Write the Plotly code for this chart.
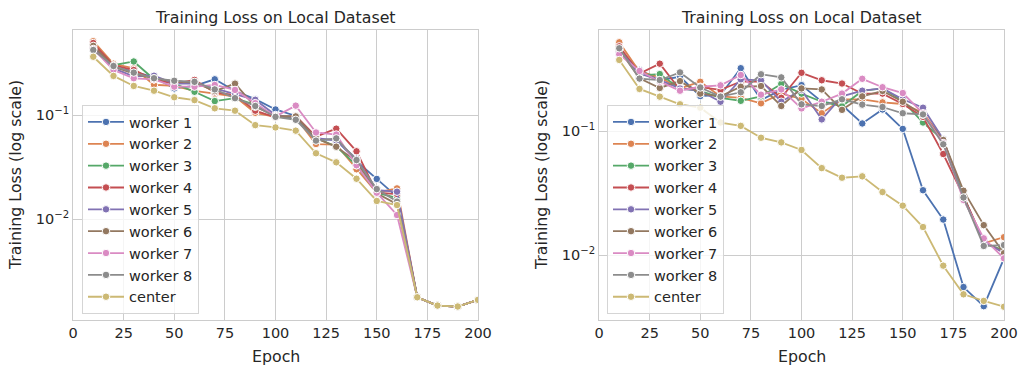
import plotly.graph_objects as go

epochs = [10, 20, 30, 40, 50, 60, 70, 80, 90, 100, 110, 120, 130, 140, 150, 160, 170, 180, 190, 200]
names = ["worker 1", "worker 2", "worker 3", "worker 4", "worker 5", "worker 6", "worker 7", "worker 8", "center"]
colors = ["#4C72B0", "#DD8452", "#55A868", "#C44E52", "#8172B3", "#937860", "#DA8BC3", "#8C8C8C", "#CCB974"]

left_tail = [0.00179, 0.00149, 0.00146, 0.00169]
left_w1 = [0.45, 0.29, 0.26, 0.23, 0.18, 0.19, 0.22, 0.17, 0.142, 0.113, 0.098, 0.058, 0.058, 0.036, 0.0244, 0.0165] + left_tail
left_w2 = [0.51, 0.31, 0.28, 0.195, 0.19, 0.17, 0.16, 0.15, 0.105, 0.096, 0.095, 0.0527, 0.052, 0.0302, 0.018, 0.0198] + left_tail
left_w3 = [0.475, 0.30, 0.326, 0.22, 0.20, 0.167, 0.136, 0.145, 0.125, 0.097, 0.092, 0.06, 0.05, 0.033, 0.018, 0.016] + left_tail
left_w4 = [0.49, 0.30, 0.27, 0.22, 0.20, 0.217, 0.165, 0.155, 0.11, 0.095, 0.098, 0.062, 0.074, 0.0449, 0.018, 0.0175] + left_tail
left_w5 = [0.44, 0.28, 0.235, 0.238, 0.20, 0.20, 0.18, 0.16, 0.14, 0.10, 0.095, 0.06, 0.057, 0.038, 0.019, 0.0184] + left_tail
left_w6 = [0.46, 0.29, 0.25, 0.225, 0.21, 0.205, 0.17, 0.20, 0.12, 0.098, 0.097, 0.06, 0.0497, 0.036, 0.0178, 0.014] + left_tail
left_w7 = [0.43, 0.27, 0.225, 0.22, 0.187, 0.187, 0.194, 0.174, 0.13, 0.097, 0.123, 0.068, 0.065, 0.033, 0.018, 0.011] + left_tail
left_w8 = [0.42, 0.295, 0.255, 0.225, 0.213, 0.208, 0.176, 0.145, 0.122, 0.096, 0.09, 0.0568, 0.0597, 0.037, 0.0195, 0.0148] + left_tail
left_center = [0.362, 0.237, 0.19, 0.171, 0.148, 0.139, 0.116, 0.110, 0.080, 0.076, 0.0708, 0.043, 0.0352, 0.0245, 0.015, 0.0137] + left_tail

right_w1 = [0.44, 0.31, 0.257, 0.273, 0.191, 0.195, 0.32, 0.178, 0.214, 0.234, 0.172, 0.162, 0.115, 0.149, 0.104, 0.0334, 0.0194, 0.00556, 0.0039, 0.00946]
right_w2 = [0.517, 0.30, 0.27, 0.22, 0.249, 0.19, 0.185, 0.167, 0.20, 0.181, 0.139, 0.18, 0.18, 0.17, 0.165, 0.14, 0.085, 0.030, 0.0125, 0.014]
right_w3 = [0.47, 0.28, 0.287, 0.22, 0.21, 0.185, 0.175, 0.19, 0.239, 0.20, 0.172, 0.158, 0.21, 0.22, 0.175, 0.117, 0.085, 0.030, 0.0125, 0.011]
right_w4 = [0.48, 0.29, 0.348, 0.215, 0.225, 0.214, 0.25, 0.25, 0.185, 0.294, 0.256, 0.241, 0.20, 0.20, 0.165, 0.13, 0.0653, 0.030, 0.013, 0.0105]
right_w5 = [0.45, 0.29, 0.257, 0.22, 0.21, 0.172, 0.26, 0.255, 0.172, 0.214, 0.124, 0.19, 0.211, 0.22, 0.18, 0.154, 0.086, 0.029, 0.0128, 0.0105]
right_w6 = [0.45, 0.265, 0.222, 0.252, 0.20, 0.19, 0.227, 0.23, 0.159, 0.22, 0.216, 0.148, 0.19, 0.21, 0.172, 0.135, 0.0847, 0.0331, 0.0175, 0.0104]
right_w7 = [0.414, 0.304, 0.25, 0.211, 0.227, 0.233, 0.282, 0.196, 0.216, 0.152, 0.172, 0.2, 0.263, 0.225, 0.202, 0.139, 0.08, 0.0279, 0.0137, 0.00946]
right_w8 = [0.463, 0.264, 0.257, 0.296, 0.224, 0.189, 0.205, 0.286, 0.27, 0.164, 0.159, 0.18, 0.163, 0.156, 0.139, 0.136, 0.0782, 0.0292, 0.0119, 0.0121]
right_center = [0.373, 0.218, 0.189, 0.164, 0.154, 0.117, 0.110, 0.0883, 0.081, 0.0704, 0.0503, 0.0421, 0.0432, 0.0323, 0.0251, 0.0169, 0.00826, 0.00486, 0.0043, 0.00386]

left_series = [left_w1, left_w2, left_w3, left_w4, left_w5, left_w6, left_w7, left_w8, left_center]
right_series = [right_w1, right_w2, right_w3, right_w4, right_w5, right_w6, right_w7, right_w8, right_center]

x_ticks = [0, 25, 50, 75, 100, 125, 150, 175, 200]
y_tickvals = [0.1, 0.01]
y_ticktext = ["10<sup>−1</sup>", "10<sup>−2</sup>"]

TXT = "#262626"
GRID = "#cccccc"
FONT = "DejaVu Sans"

fig = go.Figure()
for side, series in (("l", left_series), ("r", right_series)):
    for name, col, ys in zip(names, colors, series):
        fig.add_trace(go.Scatter(
            x=epochs, y=ys, name=name, mode="lines+markers",
            line=dict(color=col, width=1.8),
            marker=dict(color=col, size=7.5, line=dict(color="white", width=1)),
            xaxis="x" if side == "l" else "x2",
            yaxis="y" if side == "l" else "y2",
            legend="legend" if side == "l" else "legend2",
        ))

ax_common = dict(showgrid=True, gridcolor=GRID, gridwidth=1, showline=True, linecolor=GRID,
                 linewidth=1, mirror=True, ticks="", zeroline=False, automargin=False,
                 tickfont=dict(family=FONT, size=14.5, color=TXT))

leg_common = dict(yanchor="top", xanchor="left", bgcolor="rgba(255,255,255,0.8)",
                  bordercolor="#d5d5d5", borderwidth=1,
                  font=dict(family=FONT, size=14.5, color=TXT), tracegroupgap=0, itemwidth=36)

fig.update_layout(
    width=1019, height=367, margin=dict(l=0, r=0, t=0, b=0, autoexpand=False),
    paper_bgcolor="white", plot_bgcolor="white",
    font=dict(family=FONT, color=TXT),
    xaxis=dict(domain=[73 / 1019, 478 / 1019], range=[0, 200], tickvals=x_ticks, anchor="y", **ax_common),
    yaxis=dict(domain=[47 / 367, 337 / 367], type="log", range=[-2.965, -0.185],
               tickvals=y_tickvals, ticktext=y_ticktext, anchor="x", **ax_common),
    xaxis2=dict(domain=[599 / 1019, 1004 / 1019], range=[0, 200], tickvals=x_ticks, anchor="y2", **ax_common),
    yaxis2=dict(domain=[47 / 367, 337 / 367], type="log", range=[-2.52, -0.1875],
                tickvals=y_tickvals, ticktext=y_ticktext, anchor="x2", **ax_common),
    legend=dict(x=82 / 1019, y=1 - 105 / 367, **leg_common),
    legend2=dict(x=607 / 1019, y=1 - 105 / 367, **leg_common),
    showlegend=True,
)

ann = []
for cx, yx in ((275.5 / 1019, 15 / 1019), (801.5 / 1019, 541 / 1019)):
    ann.append(dict(text="Training Loss on Local Dataset", x=cx, y=1 - 17 / 367, xref="paper", yref="paper",
                    showarrow=False, font=dict(family=FONT, size=15.8, color=TXT), xanchor="center", yanchor="middle"))
    ann.append(dict(text="Epoch", x=cx, y=1 - 356 / 367, xref="paper", yref="paper",
                    showarrow=False, font=dict(family=FONT, size=15.8, color=TXT), xanchor="center", yanchor="middle"))
    ann.append(dict(text="Training Loss (log scale)", x=yx, y=1 - 175 / 367, xref="paper", yref="paper", textangle=-90,
                    showarrow=False, font=dict(family=FONT, size=15.8, color=TXT), xanchor="center", yanchor="middle"))
fig.update_layout(annotations=ann)

fig.write_html("out.html", config={"displayModeBar": False},
               post_script="document.body.style.margin='0';document.body.style.overflow='hidden';")
